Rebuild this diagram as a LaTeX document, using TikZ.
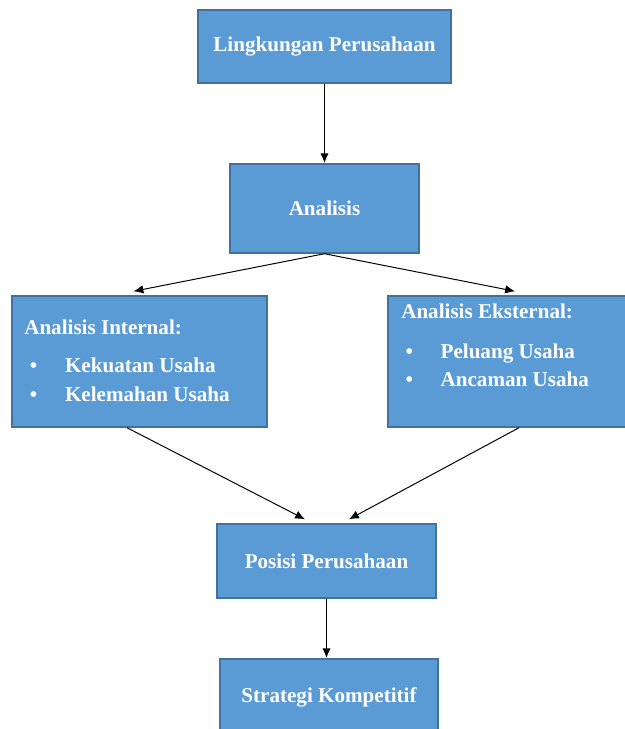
\documentclass[tikz,border=0pt]{standalone}
\usepackage{fontspec}
\setmainfont{Liberation Serif}
\usetikzlibrary{arrows.meta}
\definecolor{boxfill}{RGB}{91,155,213}
\definecolor{boxline}{RGB}{65,113,156}
\begin{document}
\begin{tikzpicture}
		% flow from company environment to competitive strategy
		[x=0.025cm,y=-0.025cm,>={Latex[length=7pt,width=6pt]},
		box/.style={rectangle,draw=boxline,line width=1pt,fill=boxfill,inner sep=0pt,
			font=\fontsize{15}{19}\selectfont\bfseries,text=white},
		txt/.style={anchor=north west,inner sep=0pt,align=left,
			font=\fontsize{15}{20}\selectfont\bfseries,text=white},
		flow/.style={->,line width=1.4pt},
		link/.style={->,line width=0.7pt}]
		\useasboundingbox (0,0) rectangle (624,729);

		\node[box,minimum width=6.325cm,minimum height=1.825cm] (ling) at (324.5,46.5) {Lingkungan Perusahaan};
		\node[box,minimum width=4.725cm,minimum height=2.225cm] (ana) at (324.5,208.5) {Analisis};
		\node[box,minimum width=6.375cm,minimum height=3.275cm] (int) at (139.5,361.5) {};
		\node[box,minimum width=6.0cm,minimum height=3.275cm] (eks) at (508,361.5) {};
		\node[box,minimum width=5.475cm,minimum height=1.85cm] (pos) at (326.5,561) {Posisi Perusahaan};
		\node[box,minimum width=5.45cm,minimum height=1.9cm] (strat) at (329,697) {Strategi Kompetitif};

		\node[txt] (inttxt) at (24,320) {Analisis Internal:\\[7pt]
			\hspace{4pt}\makebox[25pt][l]{\textbullet}Kekuatan Usaha\\
			\hspace{4pt}\makebox[25pt][l]{\textbullet}Kelemahan Usaha};
		\node[txt] (ekstxt) at (401,304) {Analisis Eksternal:\\[8pt]
			\hspace{3pt}\makebox[25pt][l]{\textbullet}Peluang Usaha\\
			\hspace{3pt}\makebox[25pt][l]{\textbullet}Ancaman Usaha};

		\draw[flow] (ling.south) -- (ana.north);
		\draw[link] (ana.south) -- ([shift={(-6,-4)}]int.north);
		\draw[link] (ana.south) -- ([shift={(7,-4)}]eks.north);
		\draw[link] ([xshift=-12.5*0.025cm]int.south) -- ([shift={(-21.5,-4)}]pos.north);
		\draw[link] ([xshift=11*0.025cm]eks.south) -- ([shift={(22.5,-4)}]pos.north);
		\draw[flow] (pos.south) -- (pos.south |- strat.north);
	\end{tikzpicture}
\end{document}
